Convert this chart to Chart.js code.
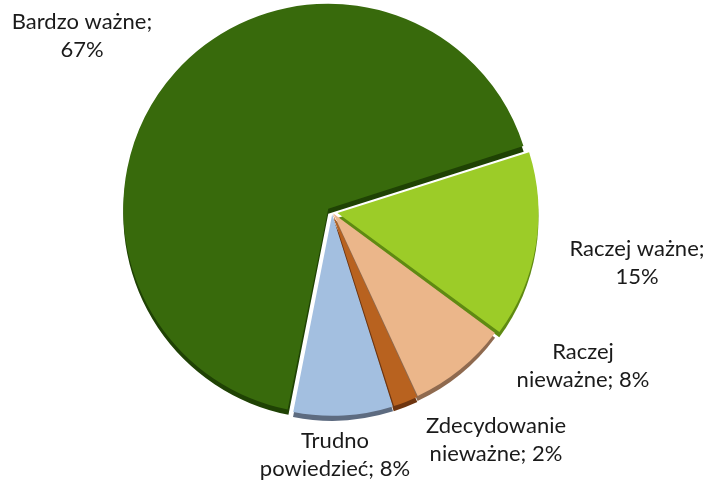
<!DOCTYPE html>
<html><head><meta charset="utf-8">
<script src="https://cdn.jsdelivr.net/npm/chart.js@4/dist/chart.umd.min.js"></script>
<style>html,body{margin:0;padding:0;background:#fff}#wrap{width:708px;height:483px}</style>
</head><body><div id="wrap"><canvas id="c" width="708" height="483"></canvas></div>
<script>
const categories = ['Raczej ważne', 'Raczej nieważne', 'Zdecydowanie nieważne', 'Trudno powiedzieć', 'Bardzo ważne'];
const values = [15, 8, 2, 8, 67];
const labelLines = [['Raczej ważne;', '15%'], ['Raczej', 'nieważne; 8%'], ['Zdecydowanie', 'nieważne; 2%'], ['Trudno', 'powiedzieć; 8%'], ['Bardzo ważne;', '67%']];

const faceColors = ['#9ccc28', '#ebb68a', '#b8621f', '#a3bfe0', '#386a0c'];
const sideColors = ['#5f8a12', '#8f6a4f', '#6e3510', '#5d6b80', '#1f4204'];
const offsets = [22, 8, 8, 10, 20];
// label anchor offsets from pie centre (px)
const labelOffsets = [[305, 51], [251, 154], [164, 228], [3, 243], [-250, -176]];

const sidePlugin = {
  id: 'side3d',
  beforeDatasetsDraw(chart) {
    const ctx = chart.ctx;
    const meta = chart.getDatasetMeta(0);
    meta.data.forEach((arc, i) => {
      const o = arc.options;
      const off = (o.offset || 0) / 4;
      const half = (arc.startAngle + arc.endAngle) / 2;
      const circ = arc.endAngle - arc.startAngle;
      const fix = 1 - Math.sin(Math.min(Math.PI, circ));
      const r = arc.outerRadius + off * fix;
      const cx = arc.x + Math.cos(half) * off;
      const cy = arc.y + Math.sin(half) * off + 5;
      ctx.save();
      ctx.fillStyle = sideColors[i];
      ctx.beginPath();
      ctx.moveTo(cx, cy);
      ctx.arc(cx, cy, r, arc.startAngle, arc.endAngle);
      ctx.closePath();
      ctx.fill();
      ctx.restore();
    });
  }
};

const labelPlugin = {
  id: 'outLabels',
  afterDatasetsDraw(chart) {
    const ctx = chart.ctx;
    const meta = chart.getDatasetMeta(0);
    const arc0 = meta.data[0];
    const cx = arc0.x, cy = arc0.y;
    ctx.save();
    ctx.fillStyle = '#1a1a1a';
    ctx.font = '22px Lato';
    ctx.textAlign = 'center';
    ctx.textBaseline = 'middle';
    labelLines.forEach((lines, i) => {
      const [dx, dy] = labelOffsets[i];
      const lh = 28;
      lines.forEach((t, k) => {
        ctx.fillText(t, cx + dx, cy + dy + (k - (lines.length - 1) / 2) * lh);
      });
    });
    ctx.restore();
  }
};

new Chart(document.getElementById('c'), {
  type: 'pie',
  data: {
    labels: categories,
    datasets: [{
      data: values,
      backgroundColor: faceColors,
      borderColor: '#ffffff',
      borderWidth: 0,
      offset: offsets,
      radius: 200
    }]
  },
  options: {
    responsive: false,
    animation: false,
    rotation: 72.4,
    radius: 200,
    layout: { padding: { left: 0, right: 44, top: 0, bottom: 59 } },
    plugins: { legend: { display: false }, tooltip: { enabled: false } }
  },
  plugins: [sidePlugin, labelPlugin]
});
</script>
</body></html>
